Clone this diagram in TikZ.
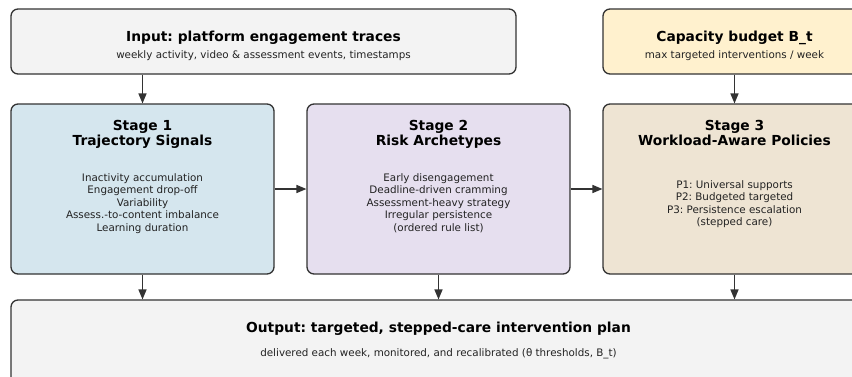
\documentclass[tikz,border=0pt]{standalone}
\usepackage{fontspec}
\setmainfont{DejaVu Sans}
\usepackage{tikz}
\usetikzlibrary{positioning,calc,arrows}
\definecolor{edgegray}{HTML}{333333}
\definecolor{bodygray}{HTML}{222222}
\definecolor{inputfill}{HTML}{F3F3F3}
\definecolor{capfill}{HTML}{FFF1CE}
\definecolor{sigfill}{HTML}{D5E6EE}
\definecolor{archfill}{HTML}{E6DFEF}
\definecolor{polfill}{HTML}{EEE4D3}
\newcommand{\headfont}{\fontsize{13.8}{14.8}\selectfont\bfseries}
\newcommand{\bodyfont}{\fontsize{10.35}{12.4}\selectfont}
\frenchspacing

\begin{document}
\begin{tikzpicture}[x=1pt, y=-1pt,
box/.style={draw=edgegray, line width=1.3pt, rounded corners=7pt, inner sep=0pt},
stage/.style={box, minimum width=263pt, minimum height=170pt},
head/.style={font=\headfont, text=black, align=center, inner sep=0pt},
body/.style={font=\bodyfont, text=bodygray, align=center, inner sep=0pt},
arr/.style={draw=edgegray, line width=1.3pt, -triangle 45},
]
\useasboundingbox (0,0) rectangle (852,376);
\clip (0,0) rectangle (852,376);

\node[box, fill=inputfill, minimum width=505pt, minimum height=65pt] (input) at (263.5,41.5) {};
\node[box, fill=capfill, minimum width=263pt, minimum height=65pt] (budget) at (734.5,41.5) {};
\node[stage, fill=sigfill] (sig) at (142.5,189) {};
\node[stage, fill=archfill] (arch) at (438.5,189) {};
\node[stage, fill=polfill] (pol) at (734.5,189) {};
\node[box, fill=inputfill, minimum width=855pt, minimum height=84pt] (plan) at (438.5,342) {};

\node[head, anchor=base] (inputhead) at ($(input.north)+(0,33)$) {Input: platform engagement traces};
\node[body, anchor=base] (inputsub) at ($(input.north)+(0,50)$) {weekly activity, video \& assessment events, timestamps};
\node[head, anchor=base] (budgethead) at ($(budget.north)+(0,33)$) {Capacity budget B\_t};
\node[body, anchor=base] (budgetsub) at ($(budget.north)+(0,50)$) {max targeted interventions / week};

\node[head, anchor=north] (sighead) at ($(sig.north)+(0,16.5)$) {Stage 1\\Trajectory Signals};
\node[body, anchor=north] (sigbody) at ($(sig.north)+(0,70)$) {Inactivity accumulation\\Engagement drop-off\\Variability\\Assess.-to-content imbalance\\Learning duration};
\node[head, anchor=north] (archhead) at ($(arch.north)+(0,16.5)$) {Stage 2\\Risk Archetypes};
\node[body, anchor=north] (archbody) at ($(arch.north)+(0,70)$) {Early disengagement\\Deadline-driven cramming\\Assessment-heavy strategy\\Irregular persistence\\(ordered rule list)};
\node[head, anchor=north] (polhead) at ($(pol.north)+(0,16.5)$) {Stage 3\\Workload-Aware Policies};
\node[body, anchor=north] (polbody) at ($(pol.north)+(0,77)$) {P1: Universal supports\\P2: Budgeted targeted\\P3: Persistence escalation\\(stepped care)};

\node[head, anchor=base] (planhead) at ($(plan.north)+(0,33)$) {Output: targeted, stepped-care intervention plan};
\node[body, anchor=base] (plansub) at ($(plan.north)+(0,57.5)$) {delivered each week, monitored, and recalibrated (θ thresholds, B\_t)};

\draw[arr] (sig.north |- input.south) -- (sig.north);
\draw[arr] (budget) -- (pol);
\draw[arr] (sig) -- (arch);
\draw[arr] (arch) -- (pol);
\foreach \s in {sig,arch,pol}
  \draw[arr] (\s.south) -- (\s.south |- plan.north);
\end{tikzpicture}
\end{document}
